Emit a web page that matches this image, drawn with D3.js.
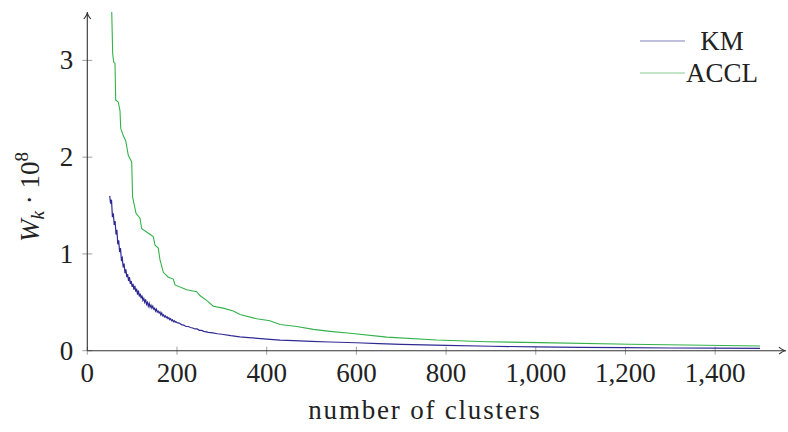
<!DOCTYPE html>
<html lang="en">
<head>
<meta charset="UTF-8">
<title>W_k vs number of clusters</title>
<script src="https://d3js.org/d3.v7.min.js" charset="utf-8"></script>
<style>
  body { margin: 0; background: #fff; }
  text { font-family: "Liberation Serif", "DejaVu Serif", serif; fill: #222; }
</style>
</head>
<body>
<div id="chart"></div>
<script>

// tick labels
var xTicks = [0, 200, 400, 600, 800, 1000, 1200, 1400];
var yTicks = [0, 1, 2, 3];
var seriesNames = ["KM", "ACCL"];

// KM: [number of clusters, W_k * 1e8] (noisy curve)
var kmData = [
  [50,1.60],[52,1.52],[54,1.56],[56,1.38],[58,1.42],[60,1.30],[62,1.34],[64,1.20],
  [66,1.25],[68,1.10],[70,1.14],[72,1.02],[74,1.06],[76,0.94],[78,0.96],[80,0.86],
  [82,0.90],[84,0.80],[86,0.84],[88,0.76],[90,0.79],[92,0.72],[94,0.76],[96,0.69],
  [98,0.72],[100,0.66],[102,0.69],[104,0.63],[106,0.67],[108,0.61],[110,0.64],[112,0.58],
  [114,0.62],[116,0.56],[118,0.59],[120,0.54],[122,0.57],[124,0.52],[126,0.54],[128,0.50],
  [130,0.53],[132,0.48],[134,0.50],[136,0.46],[138,0.49],[140,0.45],[142,0.47],[144,0.44],
  [146,0.46],[148,0.43],[150,0.44],[152,0.41],[154,0.43],[156,0.40],[158,0.41],[160,0.39],
  [162,0.40],[164,0.37],[166,0.39],[168,0.36],[170,0.37],[172,0.35],[174,0.36],[176,0.34],
  [178,0.35],[180,0.33],[182,0.34],[184,0.32],[186,0.33],[188,0.31],[190,0.32],[192,0.30],
  [194,0.31],[196,0.295],[198,0.30],[200,0.29],[205,0.285],[210,0.27],[215,0.265],[220,0.25],
  [225,0.25],[230,0.24],[235,0.235],[240,0.225],[245,0.225],[250,0.21],[255,0.21],[260,0.20],
  [270,0.19],[280,0.185],[290,0.175],[300,0.17],[320,0.155],[340,0.143],[360,0.135],[380,0.128],
  [400,0.12],[430,0.11],[460,0.104],[500,0.097],[540,0.09],[600,0.082],[650,0.074],[700,0.066],
  [800,0.054],[900,0.046],[1000,0.039],[1100,0.035],[1200,0.031],[1300,0.028],[1400,0.026],[1500,0.024]
];

// ACCL: [number of clusters, W_k * 1e8] (step-like curve)
var acclData = [
  [50,4.00],[54,3.60],[56.6,3.07],[58.9,2.98],[61.8,2.97],[63.3,2.59],[69.1,2.57],[72.9,2.48],
  [74.5,2.30],[80.3,2.22],[85.6,2.17],[91.4,2.02],[99,1.95],[101,1.59],[108.6,1.42],[117.5,1.37],
  [121.3,1.26],[143.6,1.19],[147,1.18],[151,1.09],[158.3,1.06],[162,0.94],[169.5,0.81],[180.6,0.76],
  [191.8,0.74],[195.6,0.68],[221.7,0.63],[244,0.61],[251,0.57],[266,0.52],[281,0.46],[303,0.44],
  [325.6,0.41],[340.5,0.375],[377.8,0.33],[407,0.31],[430,0.27],[467,0.25],[504,0.22],[541,0.20],
  [586,0.18],[668,0.14],[779,0.11],[891,0.093],[1010,0.083],[1210,0.066],[1500,0.048]
];

var width = 788, height = 432;
var x0 = 87.3, x1 = 786, y0 = 350.7, y1 = 12;
var fs = "27px";

var svg = d3.select("#chart")
  .append("svg")
    .attr("width", width)
    .attr("height", height);

var x = d3.scaleLinear()
  .domain([0, 1558])
  .range([x0, x1]);

var y = d3.scaleLinear()
  .domain([0, 3.5])
  .range([y0, y1]);

svg.append("clipPath")
    .attr("id", "plotclip")
  .append("rect")
    .attr("x", x0).attr("y", y1)
    .attr("width", x1 - x0).attr("height", y0 - y1);

var line = d3.line()
  .x(function (d) { return x(d[0]); })
  .y(function (d) { return y(d[1]); });

var color = d3.scaleOrdinal()
  .domain(seriesNames)
  .range(["#2f2a92", "#33b24a"]);

// ticks
svg.selectAll(".xtick")
  .data(xTicks)
  .enter()
  .append("line")
    .attr("x1", function (d) { return x(d); })
    .attr("x2", function (d) { return x(d); })
    .attr("y1", y0 - 4)
    .attr("y2", y0 + 4)
    .attr("stroke", "#888")
    .attr("stroke-width", 0.8);

svg.selectAll(".xlabel")
  .data(xTicks)
  .enter()
  .append("text")
    .attr("x", function (d) { return x(d); })
    .attr("y", y0 + 31)
    .attr("text-anchor", "middle")
    .style("font-size", fs)
    .text(function (d) { return d3.format(",")(d); });

svg.selectAll(".ytick")
  .data(yTicks)
  .enter()
  .append("line")
    .attr("x1", x0 - 5)
    .attr("x2", x0 + 5)
    .attr("y1", function (d) { return y(d); })
    .attr("y2", function (d) { return y(d); })
    .attr("stroke", "#888")
    .attr("stroke-width", 0.8);

svg.selectAll(".ylabel")
  .data(yTicks)
  .enter()
  .append("text")
    .attr("x", x0 - 14)
    .attr("y", function (d) { return y(d) + 9; })
    .attr("text-anchor", "end")
    .style("font-size", fs)
    .text(function (d) { return d; });

// data lines
var plot = svg.append("g").attr("clip-path", "url(#plotclip)");

plot.append("path")
  .datum(acclData)
  .attr("fill", "none")
  .attr("stroke", color("ACCL"))
  .attr("stroke-width", 1.1)
  .attr("d", line);

plot.append("path")
  .datum(kmData)
  .attr("fill", "none")
  .attr("stroke", color("KM"))
  .attr("stroke-width", 1.2)
  .attr("d", line);

// axes with arrows
svg.append("line")
  .attr("x1", x0).attr("x2", x1 - 2)
  .attr("y1", y0).attr("y2", y0)
  .attr("stroke", "#333").attr("stroke-width", 1.1);
svg.append("line")
  .attr("x1", x0).attr("x2", x0)
  .attr("y1", y0).attr("y2", y1 + 2)
  .attr("stroke", "#333").attr("stroke-width", 1.1);

svg.append("path")
  .attr("d", "M" + (x1 - 7) + "," + (y0 - 3.5) + " Q" + (x1 - 3) + "," + y0 + " " + x1 + "," + y0 +
             " Q" + (x1 - 3) + "," + y0 + " " + (x1 - 7) + "," + (y0 + 3.5))
  .attr("fill", "none").attr("stroke", "#333").attr("stroke-width", 1.1);
svg.append("path")
  .attr("d", "M" + (x0 - 3.5) + "," + (y1 + 7) + " Q" + x0 + "," + (y1 + 3) + " " + x0 + "," + y1 +
             " Q" + x0 + "," + (y1 + 3) + " " + (x0 + 3.5) + "," + (y1 + 7))
  .attr("fill", "none").attr("stroke", "#333").attr("stroke-width", 1.1);

// axis titles
svg.append("text")
  .attr("x", 425)
  .attr("y", 419)
  .attr("text-anchor", "middle")
  .style("font-size", fs)
  .style("letter-spacing", "1.8px")
  .text("number of clusters");

var ytitle = svg.append("text")
  .attr("transform", "translate(39,197) rotate(-90)")
  .attr("text-anchor", "middle")
  .style("font-size", fs);
ytitle.append("tspan").style("font-style", "italic").text("W");
ytitle.append("tspan").style("font-style", "italic").style("font-size", "19px").attr("dy", 5).text("k");
ytitle.append("tspan").attr("dy", -5).text(" \u00b7 10");
ytitle.append("tspan").style("font-size", "19px").attr("dy", -11).text("8");

// legend
var legend = svg.append("g");
seriesNames.forEach(function (name, i) {
  var ly = 41 + i * 32;
  legend.append("line")
    .attr("x1", 640).attr("x2", 685)
    .attr("y1", ly).attr("y2", ly)
    .attr("stroke", color(name))
    .attr("stroke-width", 1.1)
    .attr("stroke-opacity", 0.6);
  legend.append("text")
    .attr("x", 722)
    .attr("y", ly + 9)
    .attr("text-anchor", "middle")
    .style("font-size", fs)
    .text(name);
});

</script>
</body>
</html>
